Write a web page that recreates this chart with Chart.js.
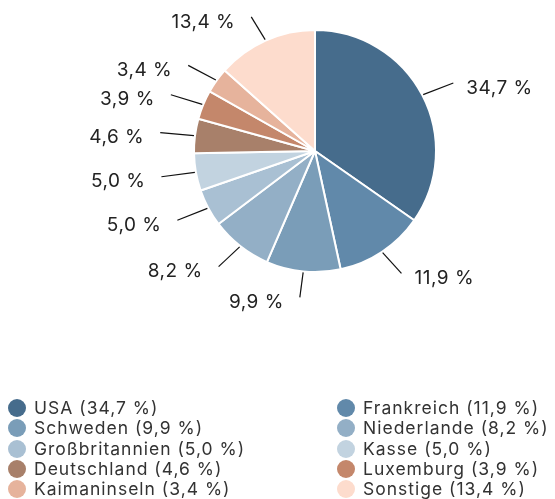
<!DOCTYPE html>
<html>
<head>
<meta charset="utf-8">
<script src="https://cdn.jsdelivr.net/npm/chart.js@4/dist/chart.umd.min.js"></script>
<style>
  html, body { margin: 0; padding: 0; background: #fff; }
  #wrap { position: relative; width: 555px; height: 499px; overflow: hidden; }
  #c { position: absolute; left: 0; top: 0; }
  .lg { position: absolute; font-family: "Inter", sans-serif; font-size: 17.5px; letter-spacing: 1px; color: #333; white-space: nowrap; line-height: 20px; }
  .lg span.dot { position: absolute; width: 18px; height: 18px; border-radius: 50%; left: 0; top: 1px; }
  .lg span.t { position: absolute; left: 18px; top: 0; }
</style>
</head>
<body>
<div id="wrap">
  <canvas id="c" width="555" height="499"></canvas>
</div>
<script>
const categories = ["USA", "Frankreich", "Schweden", "Niederlande", "Großbritannien", "Kasse", "Deutschland", "Luxemburg", "Kaimaninseln", "Sonstige"];
const values = [34.7, 11.9, 9.9, 8.2, 5.0, 5.0, 4.6, 3.9, 3.4, 13.4];
const colors = ["#466c8c", "#6189aa", "#7a9db8", "#93afc6", "#a9c0d3", "#c2d3e0", "#a8806a", "#c4876b", "#e6b39c", "#fddccd"];

const fmt = v => v.toFixed(1).replace(".", ",") + " %";

const FONT = '19px "Inter", sans-serif';

const outLabels = {
  id: "outLabels",
  afterDatasetsDraw(chart) {
    const ctx = chart.ctx;
    const meta = chart.getDatasetMeta(0);
    ctx.save();
    ctx.font = FONT;
    ctx.letterSpacing = "0.5px";
    ctx.fillStyle = "#222";
    ctx.strokeStyle = "#111";
    ctx.lineWidth = 1.2;
    ctx.textBaseline = "middle";
    meta.data.forEach((arc, i) => {
      const p = arc.getProps(["x", "y", "startAngle", "endAngle", "outerRadius"], true);
      const mid = (p.startAngle + p.endAngle) / 2;
      const cos = Math.cos(mid), sin = Math.sin(mid);
      const r0 = p.outerRadius + 1;
      const x0 = p.x + cos * r0, y0 = p.y + sin * r0;
      const x1 = p.x + cos * (p.outerRadius + 35), y1 = p.y + sin * (p.outerRadius + 26);
      ctx.beginPath();
      ctx.moveTo(x0, y0);
      ctx.lineTo(x1, y1);
      ctx.stroke();
      const right = cos >= 0;
      ctx.textAlign = right ? "left" : "right";
      ctx.fillText(fmt(values[i]), x1 + (right ? 13 : -16), y1 + 5);
    });
    ctx.restore();
  }
};

new Chart(document.getElementById("c"), {
  type: "pie",
  data: {
    labels: categories,
    datasets: [{
      data: values,
      backgroundColor: colors,
      borderColor: "#ffffff",
      borderWidth: 2,
      hoverOffset: 0
    }]
  },
  options: {
    responsive: false,
    animation: false,
    events: [],
    layout: { padding: { left: 193, right: 118, top: 29, bottom: 226 } },
    plugins: { legend: { display: false }, tooltip: { enabled: false } }
  },
  plugins: [outLabels]
});

// HTML legend, two columns, row-major
const wrap = document.getElementById("wrap");
categories.forEach((c, i) => {
  const col = i % 2, row = Math.floor(i / 2);
  const d = document.createElement("div");
  d.className = "lg";
  d.style.left = (col === 0 ? 8 : 337) + "px";
  d.style.top = (398 + row * 20.25) + "px";
  const dot = document.createElement("span");
  dot.className = "dot";
  dot.style.background = colors[i];
  const t = document.createElement("span");
  t.className = "t";
  t.style.left = "26px";
  t.textContent = c + " (" + fmt(values[i]) + ")";
  d.appendChild(dot);
  d.appendChild(t);
  wrap.appendChild(d);
});
</script>
</body>
</html>
